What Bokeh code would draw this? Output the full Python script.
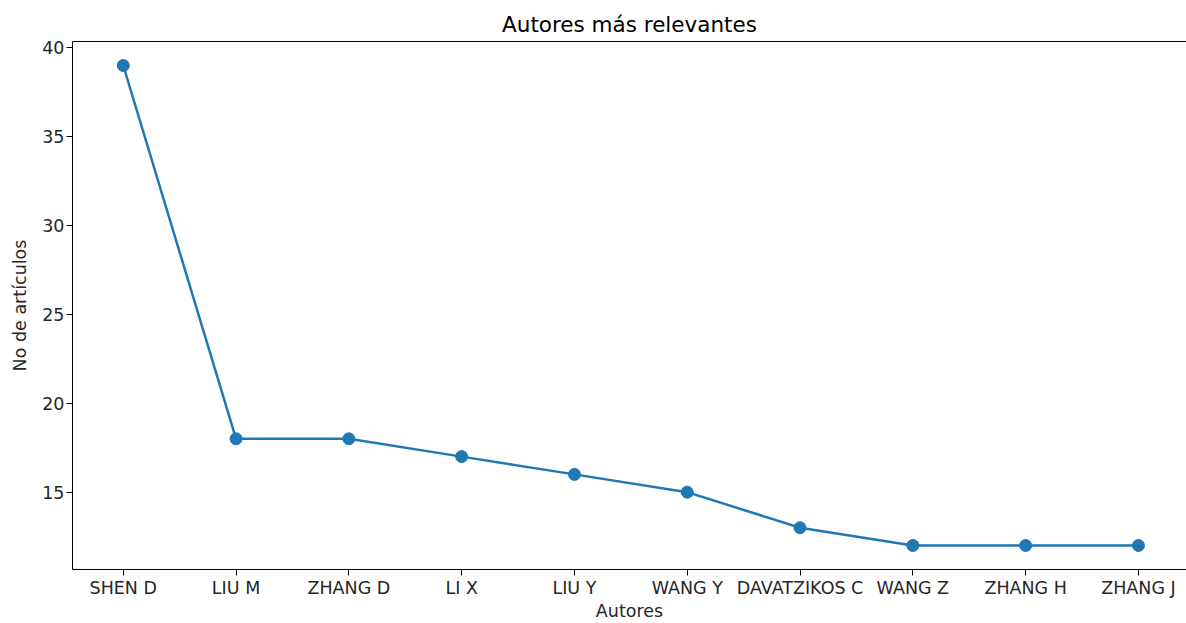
from bokeh.plotting import figure
from bokeh.models import FixedTicker, Range1d, LinearAxis
from bokeh.embed import file_html
from bokeh.resources import INLINE

autores = ["SHEN D", "LIU M", "ZHANG D", "LI X", "LIU Y", "WANG Y",
           "DAVATZIKOS C", "WANG Z", "ZHANG H", "ZHANG J"]
articulos = [39, 18, 18, 17, 16, 15, 13, 12, 12, 12]

xs = list(range(len(autores)))
ymin, ymax = min(articulos), max(articulos)
pad = (ymax - ymin) * 0.05
xpad = (len(autores) - 1) * 0.05

# the reference is cropped on the right: the frame runs past the image edge
p = figure(width=1186, height=623, output_backend="svg", toolbar_location=None,
           title="Autores más relevantes",
           x_range=Range1d(-xpad, 9.426),
           y_range=Range1d(ymin - pad, ymax + pad),
           min_border_left=72, min_border_right=0, min_border_top=41, min_border_bottom=51)

p.line(xs, articulos, line_color="#1f77b4", line_width=2.5)
p.scatter(xs, articulos, size=12, fill_color="#1f77b4", line_color="#1f77b4")

p.title.text_font = "DejaVu Sans"
p.title.text_font_size = "21.5px"
p.title.text_font_style = "normal"
p.title.align = "center"
p.title.text_color = "#000000"
p.title.offset = 0

p.xgrid.visible = False
p.ygrid.visible = False
p.outline_line_color = None

xax = p.below[0]
yax = p.left[0]

xax.ticker = FixedTicker(ticks=xs)
xax.major_label_overrides = {i: a for i, a in enumerate(autores)}
yax.ticker = FixedTicker(ticks=[15, 20, 25, 30, 35, 40])

for ax in (xax, yax):
    ax.axis_line_color = "black"
    ax.major_tick_line_color = "black"
    ax.major_tick_out = 6
    ax.major_tick_in = 0
    ax.minor_tick_line_color = None
    ax.major_label_text_font = "DejaVu Sans"
    ax.major_label_text_font_size = "17.5px"
    ax.major_label_text_color = "#262626"
    ax.axis_label_text_font = "DejaVu Sans"
    ax.axis_label_text_font_size = "17.5px"
    ax.axis_label_text_font_style = "normal"
    ax.axis_label_text_color = "#262626"
    ax.major_label_standoff = 2
    ax.axis_label_standoff = 0

yax.axis_label_standoff = 9
xax.axis_label = "Autores"
yax.axis_label = "No de artículos"

top = LinearAxis(ticker=FixedTicker(ticks=[]), axis_line_color="black",
                 major_tick_out=0, major_tick_in=0, minor_tick_out=0, minor_tick_in=0,
                 major_label_text_font_size="0px", major_label_standoff=0)
p.add_layout(top, "above")

open("out.html", "w").write(file_html(p, INLINE))
